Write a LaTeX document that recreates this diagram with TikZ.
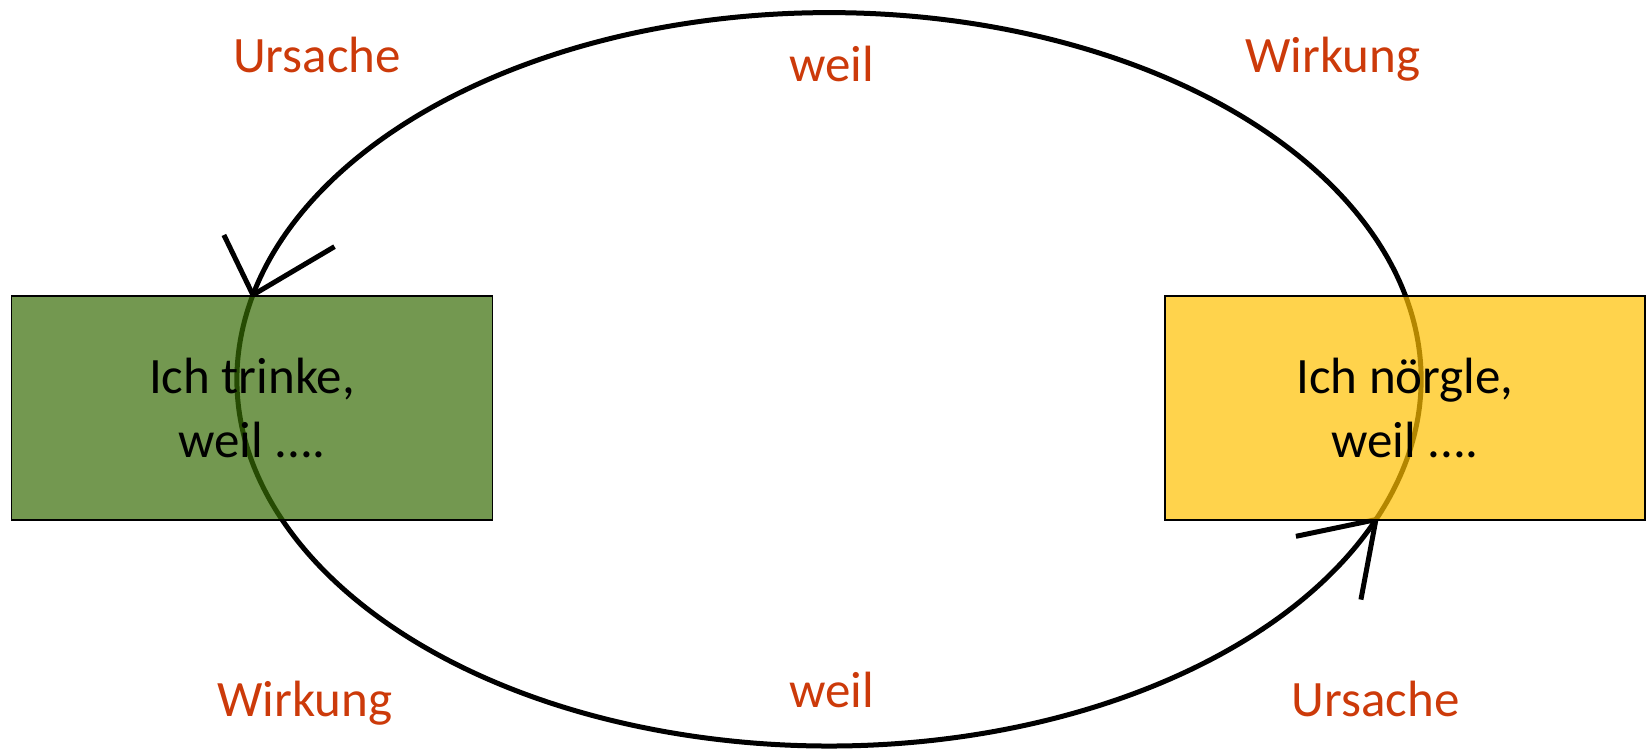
\documentclass[tikz,border=0pt]{standalone}
\usepackage{fontspec}
\setmainfont{Carlito}
\usetikzlibrary{calc}
\definecolor{lbl}{RGB}{204,58,10}
\definecolor{boxgreen}{RGB}{55,108,5}
\definecolor{boxyellow}{RGB}{255,192,0}
\begin{document}
\begin{tikzpicture}[x=1pt,y=1pt,
  loopline/.style={line width=5pt,black},
  tipline/.style={line width=5pt,black},
  box/.style={draw=black,line width=1.5pt,fill opacity=0.7,text opacity=1,draw opacity=1,
     minimum width=480pt,minimum height=224pt,inner sep=0pt,align=center,
     font=\fontsize{51}{63.3}\selectfont},
  lab/.style={text=lbl,anchor=base,inner sep=0pt,font=\fontsize{51}{61}\selectfont}]
\useasboundingbox (0,0) rectangle (1646,750);
\coordinate (c) at (829,370.7);
\coordinate (ltip) at ($(c)+(166.7:592pt and 366.7pt)$);
\coordinate (rtip) at ($(c)+(-22.5:592pt and 366.7pt)$);
% loop
\draw[loopline] (rtip) arc[start angle=-22.5,end angle=166.7,x radius=592pt,y radius=366.7pt];
\draw[loopline] (ltip) arc[start angle=166.7,end angle=337.5,x radius=592pt,y radius=366.7pt];
% arrow heads
\draw[tipline] ($(ltip)+(-29,60)$) -- (ltip) -- ($(ltip)+(81.6,48.3)$);
\draw[tipline] ($(rtip)+(-80,-16.7)$) -- (rtip) -- ($(rtip)+(-15,-80)$);
% boxes
\node[box,fill=boxgreen,minimum width=480.6pt] (trinke) at (252,342) {Ich trinke,\\weil ....};
\node[box,fill=boxyellow] (noergle) at (1405,342) {Ich nörgle,\\weil ....};
% labels
\node[lab] (u1) at (317,677.3) {Ursache};
\node[lab] (w1) at (831.5,668.3) {weil};
\node[lab] (k1) at (1333,677.3) {Wirkung};
\node[lab] (k2) at (305,34) {Wirkung};
\node[lab] (w2) at (831.7,42.3) {weil};
\node[lab] (u2) at (1375.5,34) {Ursache};
\end{tikzpicture}
\end{document}
